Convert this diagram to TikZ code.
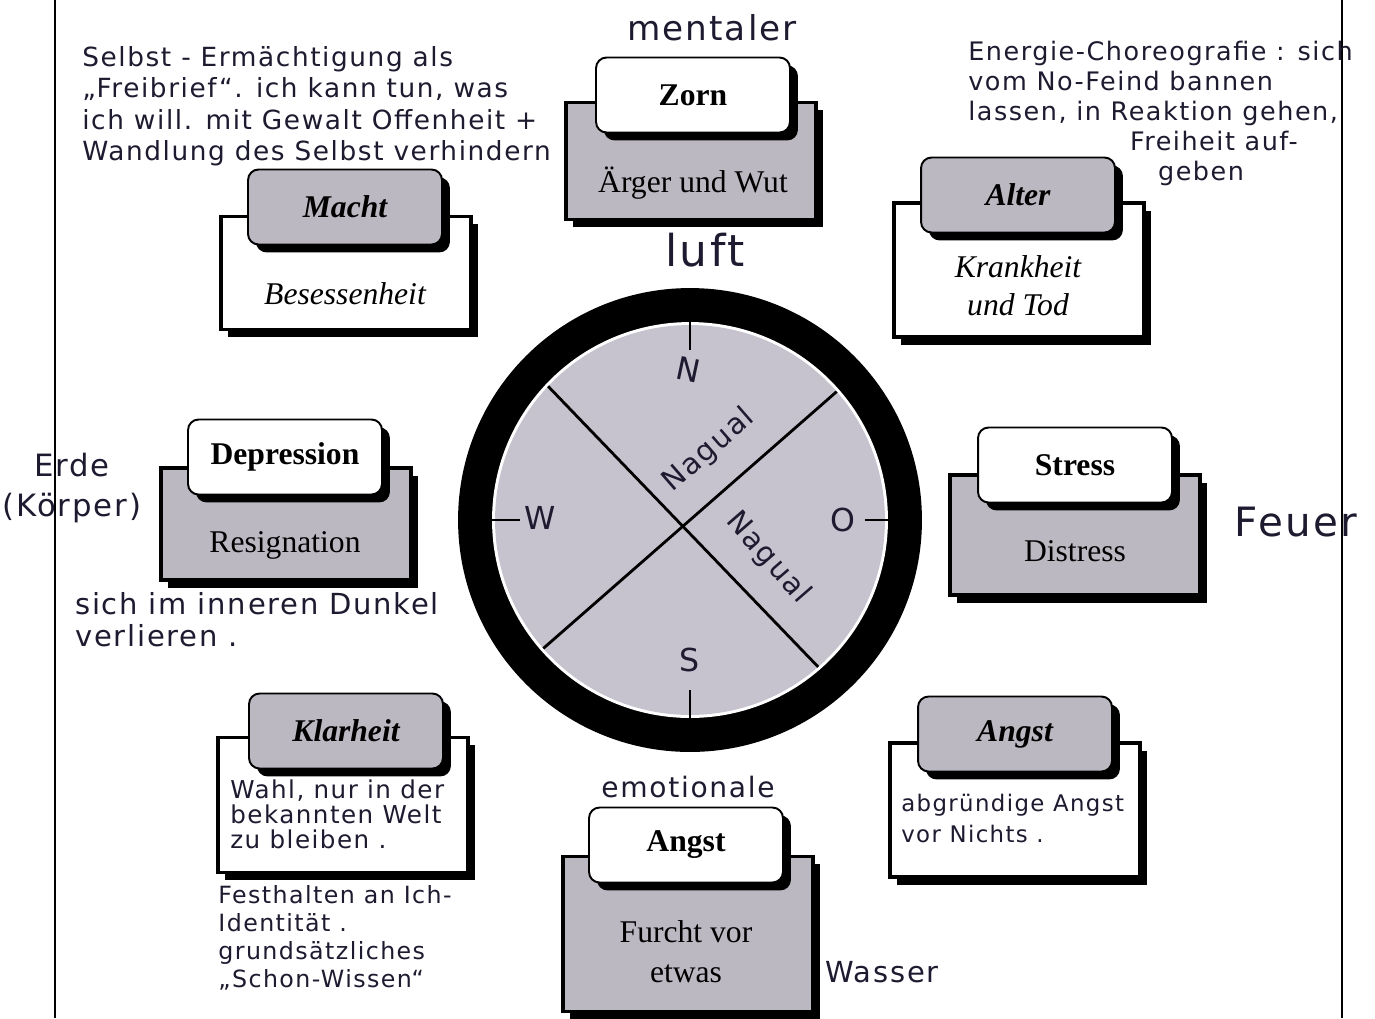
\documentclass[tikz,border=0pt]{standalone}
\usepackage{fontspec}
\setmainfont{Liberation Serif}
\newfontfamily\handfont{DejaVu Sans}[LetterSpace=6]
\usetikzlibrary{shadows}
\definecolor{boxgray}{RGB}{188,184,194}
\definecolor{discgray}{RGB}{198,194,206}
\definecolor{ink}{RGB}{30,26,48}

\begin{document}
\begin{tikzpicture}[
        x=0.02cm, y=-0.02cm,
        tab/.style={rectangle, draw, rounded corners=6pt, line width=1.1pt, minimum width=3.88cm, minimum height=1.5cm, inner sep=2pt, font=\fontsize{18}{21}\selectfont\bfseries, drop shadow={shadow xshift=4.5pt, shadow yshift=-4.5pt, fill=black, opacity=1}},
        tabw/.style={tab, fill=white},
        tabg/.style={tab, fill=boxgray, font=\fontsize{18}{21}\selectfont\bfseries\itshape},
        base/.style={rectangle, draw, line width=1.8pt, minimum width=5cm, drop shadow={shadow xshift=4pt, shadow yshift=-4.5pt, fill=black, opacity=1}},
        basew/.style={base, fill=white},
        baseg/.style={base, fill=boxgray},
        sub/.style={align=center, font=\fontsize{18}{22}\selectfont},
        hand/.style={text=ink, align=left, inner sep=0pt},
        letter/.style={text=ink, inner sep=0pt, font=\handfont\fontsize{18}{20}\selectfont},
        tick/.style={line width=1.6pt}
    ]

    % Frame
    \fill[white] (0,0) rectangle (1375,1018);
    \useasboundingbox (0,0) rectangle (1375,1018);
    \draw[line width=1.3pt] (55,0) -- (55,1018);
    \draw[line width=1.3pt] (1342,0) -- (1342,1018);

    % Compass
    \coordinate (ctr) at (690,520);
    \fill[black] (ctr) circle[radius=4.64cm];
    \fill[white] (ctr) circle[radius=3.96cm];
    \fill[discgray] (ctr) circle[radius=3.9cm];
    \draw[tick] ([shift={(136.7:3.9cm)}]ctr) -- ([shift={(-48.9:3.9cm)}]ctr);
    \draw[tick] ([shift={(41.2:3.9cm)}]ctr) -- ([shift={(-138.8:3.9cm)}]ctr);
    \draw[tick] ([shift={(90:3.96cm)}]ctr) -- ([shift={(90:3.4cm)}]ctr);
    \draw[tick] ([shift={(270:3.96cm)}]ctr) -- ([shift={(270:3.4cm)}]ctr);
    \draw[tick] ([shift={(180:3.96cm)}]ctr) -- ([shift={(180:3.4cm)}]ctr);
    \draw[tick] ([shift={(0:3.96cm)}]ctr) -- ([shift={(0:3.5cm)}]ctr);

    \node (north) [letter, rotate=-12] at (688,370) {N};
    \node (west) [letter] at (540,518) {W};
    \node (east) [letter] at (843,520) {O};
    \node (south) [letter] at (690,660) {S};
    \node (nagualup) [letter, font=\handfont\fontsize{16.5}{18}\selectfont, rotate=41] at (709,450) {Nagual};
    \node (nagualdown) [letter, font=\handfont\fontsize{16.5}{18}\selectfont, rotate=-49] at (768,558) {Nagual};

    % Nodes
    \node (zornbase) [baseg, minimum height=2.34cm] at (691,161) {};
    \node (zorntab) [tabw] at (693,95) {Zorn};
    \node (zornsub) [sub] at (693,183) {Ärger und Wut};

    \node (machtbase) [basew, minimum height=2.26cm] at (346,273) {};
    \node (machttab) [tabg] at (345,207) {Macht};
    \node (machtsub) [sub, font=\fontsize{18}{22}\selectfont\itshape] at (345,294) {Besessenheit};

    \node (depbase) [baseg, minimum height=2.24cm] at (286,524) {};
    \node (deptab) [tabw] at (285,457) {Depression};
    \node (depsub) [sub] at (285,545) {Resignation};

    \node (alterbase) [basew, minimum height=2.68cm] at (1019,270) {};
    \node (altertab) [tabg] at (1018,195) {Alter};
    \node (altersub) [sub, font=\fontsize{18}{21.5}\selectfont\itshape] at (1018,286) {Krankheit\\und Tod};

    \node (stressbase) [baseg, minimum height=2.4cm] at (1075,535) {};
    \node (stresstab) [tabw] at (1075,465) {Stress};
    \node (stresssub) [sub] at (1075,551) {Distress};

    \node (klarbase) [basew, minimum height=2.7cm] at (343,805) {};
    \node (klartab) [tabg] at (346,731) {Klarheit};
    \node (klarsub) [hand, anchor=north west, font=\handfont\fontsize{14}{14.4}\selectfont] at (230,779) {Wahl, nur in der\\bekannten Welt\\zu bleiben .};

    \node (furchtbase) [baseg, minimum height=3.1cm] at (688,934) {};
    \node (furchttab) [tabw] at (686,845) {Angst};
    \node (furchtsub) [sub, font=\fontsize{18}{22.7}\selectfont] at (686,952) {Furcht vor\\etwas};

    \node (angstbase) [basew, minimum height=2.68cm] at (1015,810) {};
    \node (angsttab) [tabg] at (1015,734) {Angst};
    \node (angstsub) [hand, anchor=north west, font=\handfont\fontsize{13}{17.6}\selectfont] at (901,794) {abgründige Angst\\vor Nichts .};

    % Notes
    \node (mental) [hand, font=\handfont\fontsize{19.5}{21}\selectfont] at (712,28) {mentaler};
    \node (luft) [hand, font=\handfont\fontsize{25}{27}\selectfont] at (705,250) {luft};
    \node (erde) [hand, align=center, font=\handfont\fontsize{17.5}{22.7}\selectfont] at (72,488) {Erde\\(Körper)};
    \node (feuer) [hand, font=\handfont\fontsize{23}{25}\selectfont] at (1296,522) {Feuer};
    \node (emotion) [hand, font=\handfont\fontsize{16}{18}\selectfont] at (688,787) {emotionale};
    \node (wasser) [hand, font=\handfont\fontsize{16.5}{18}\selectfont] at (882,972) {Wasser};

    \node (selbst) [hand, anchor=north west, font=\handfont\fontsize{15}{17.9}\selectfont] at (82,46) {Selbst - Ermächtigung als\\„Freibrief“. ich kann tun, was\\ich will. mit Gewalt Offenheit +\\Wandlung des Selbst verhindern};
    \node (energie) [hand, anchor=north west, font=\handfont\fontsize{14.5}{17}\selectfont] at (968,41) {Energie-Choreografie : sich\\vom No-Feind bannen\\lassen, in Reaktion gehen,\\\hspace*{92pt}Freiheit auf-\\\hspace*{108pt}geben};
    \node (dunkel) [hand, anchor=north west, font=\handfont\fontsize{16.5}{18}\selectfont] at (75,592) {sich im inneren Dunkel\\verlieren .};
    \node (festhalten) [hand, anchor=north west, font=\handfont\fontsize{13.5}{16}\selectfont] at (218,885) {Festhalten an Ich-\\Identität .\\grundsätzliches\\„Schon-Wissen“};

\end{tikzpicture}
\end{document}
